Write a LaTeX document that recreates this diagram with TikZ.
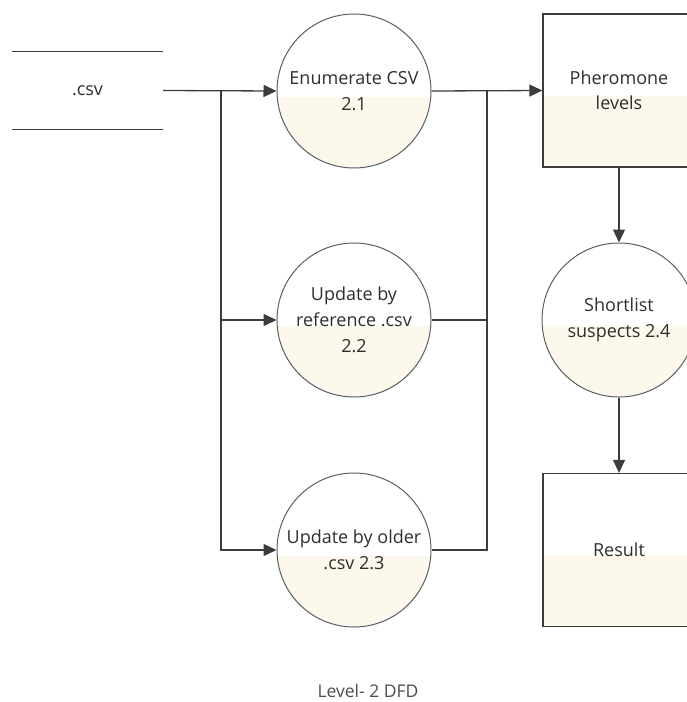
\documentclass[tikz,border=0pt]{standalone}
\usepackage{fontspec}
\setmainfont{Open Sans}
\usetikzlibrary{arrows.meta}
\definecolor{cream}{HTML}{FDF8EC}
\definecolor{linec}{HTML}{3C3C3C}
\definecolor{circc}{HTML}{5A5E68}
\definecolor{txtc}{HTML}{2E2E2E}
\tikzset{
  proc/.style={circle, draw=circc, line width=1pt, minimum size=154pt, inner sep=0pt,
    align=center, text=txtc, font=\fontsize{18}{26}\selectfont,
    path picture={\fill[cream] ([yshift=-6pt]path picture bounding box.west) rectangle (path picture bounding box.south east);}},
  store/.style={rectangle, draw=linec, line width=1.3pt, minimum width=152pt, minimum height=153pt,
    inner sep=0pt, align=center, text=txtc, font=\fontsize{18}{25}\selectfont,
    path picture={\fill[cream] ([yshift=-5pt]path picture bounding box.west) rectangle (path picture bounding box.south east);}},
  flow/.style={draw=linec, line width=1.3pt, -{Triangle[length=13pt,width=12pt]}},
  bus/.style={draw=linec, line width=1.3pt},
}
\begin{document}
\begin{tikzpicture}[x=1pt,y=-1pt]
\useasboundingbox (0,0) rectangle (687,702);
\clip (0,0) rectangle (687,702);
% data store
\node[minimum width=151pt, minimum height=77pt, inner sep=0pt, text=txtc, font=\fontsize{18}{25}\selectfont] (csv) at (87.5,90.5) {.csv};
\draw[bus] (csv.north west) -- (csv.north east);
\draw[bus] (csv.south west) -- (csv.south east);
% processes
\node[proc] (c1) at (354,91) {Enumerate CSV\\2.1};
\node[proc] (c2) at (354,320) {Update by\\reference .csv\\2.2};
\node[proc] (c3) at (354,550) {Update by older\\.csv 2.3};
\node[proc] (c4) at (619,320) {Shortlist\\suspects 2.4};
% stores
\node[store] (ph) at (619,90.5) {Pheromone\\levels};
\node[store] (res) at (619,550) {Result};
% junctions
\coordinate (j1) at (221,91);
\coordinate (j2) at (487,91);
% connectors
\draw[flow] (csv.east) -- (c1.west);
\draw[flow] (j1) |- (c2.west);
\draw[flow] (j1) |- (c3.west);
\draw[flow] (c1.east) -- (ph.west);
\draw[bus] (c2.east) -| (j2);
\draw[bus] (c3.east) -| (j2);
\draw[flow] (ph.south) -- (c4.north);
\draw[flow] (c4.south) -- (res.north);
% caption
\node[text=txtc!85, inner sep=0pt, font=\fontsize{17.5}{20}\selectfont] (cap) at (368,691) {Level- 2 DFD};
\end{tikzpicture}
\end{document}
